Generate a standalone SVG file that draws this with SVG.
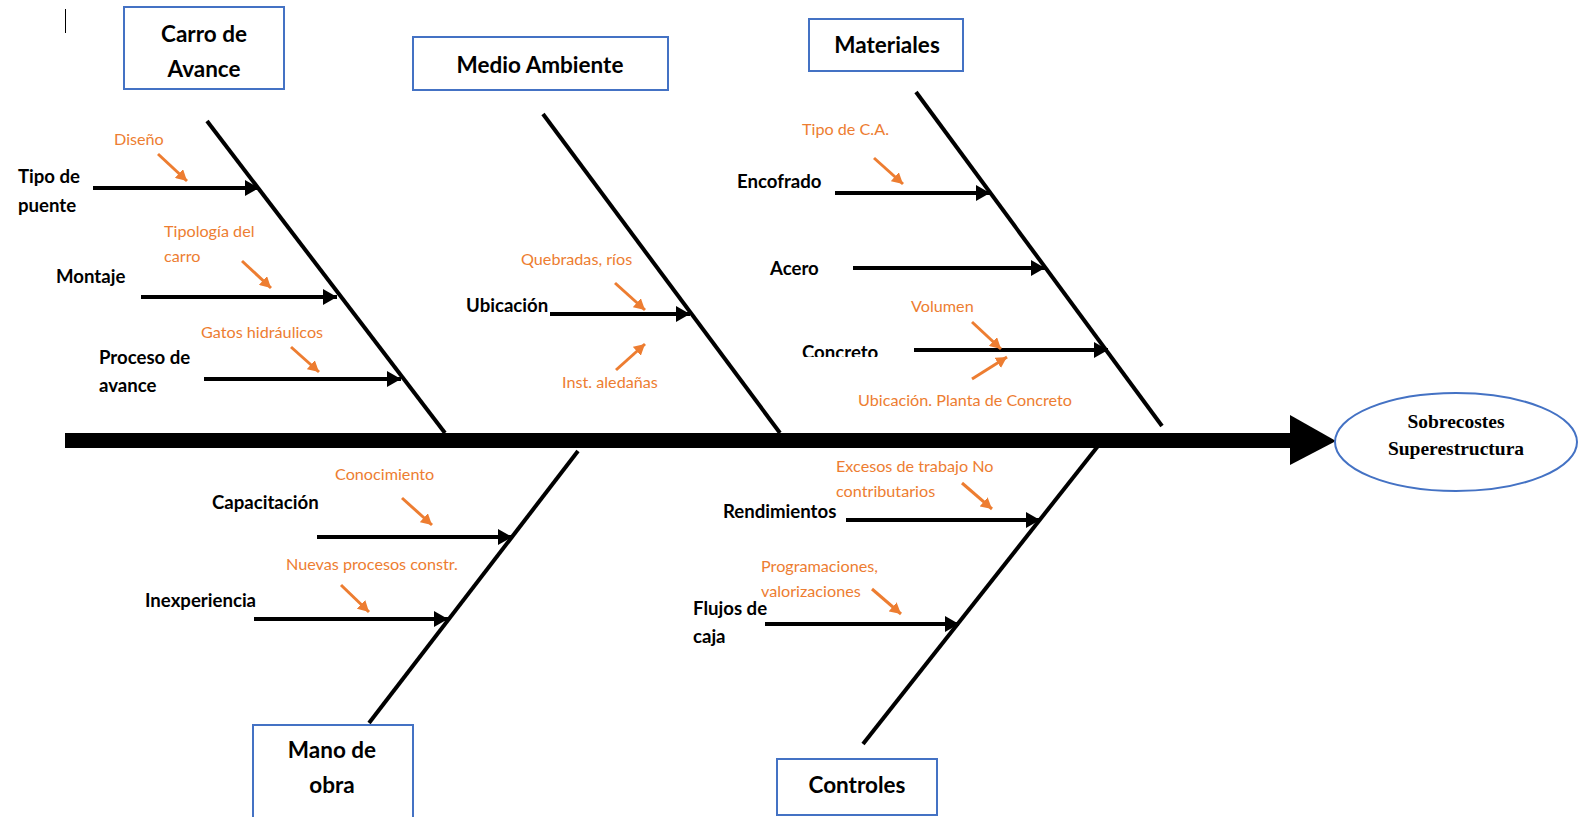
<svg xmlns="http://www.w3.org/2000/svg" width="1580" height="817" viewBox="0 0 1580 817">
  <style>
    .box { fill: #ffffff; stroke: #4472C4; stroke-width: 2; }
    .title { font-family: Lato, "Liberation Sans", sans-serif; font-weight: bold; font-size: 22.5px; fill: #000; text-anchor: middle; }
    .lbl { font-family: Lato, "Liberation Sans", sans-serif; font-weight: bold; font-size: 18.6px; fill: #000; }
    .sub { font-family: Lato, "Liberation Sans", sans-serif; font-size: 16.2px; fill: #ED7D31; }
    .effect { font-family: "Liberation Serif", "Times New Roman", serif; font-weight: bold; font-size: 19.5px; fill: #000; text-anchor: middle; }
    .bone { stroke: #000; stroke-width: 4; fill: none; }
    .branch { stroke: #000; stroke-width: 4; fill: none; marker-end: url(#blackHead); }
    .hint { stroke: #ED7D31; stroke-width: 3; fill: none; marker-end: url(#orangeHead); }
  </style>
  <defs>
    <marker id="blackHead" markerUnits="userSpaceOnUse" markerWidth="16" markerHeight="16" refX="14" refY="8" orient="auto">
      <path d="M0,0 L14,8 L0,16 Z" fill="#000"/>
    </marker>
    <marker id="orangeHead" markerUnits="userSpaceOnUse" markerWidth="12" markerHeight="12" refX="11" refY="6" orient="auto">
      <path d="M0,0 L11,6 L0,12 Z" fill="#ED7D31"/>
    </marker>
    <clipPath id="clipConcreto">
      <rect x="780" y="330" width="120" height="27"/>
    </clipPath>
  </defs>

  <rect width="1580" height="817" fill="#ffffff"/>

  <!-- text cursor mark -->
  <line x1="65.5" y1="9" x2="65.5" y2="33" stroke="#000" stroke-width="1"/>

  <!-- spine, bones and branch arrows -->
  <g id="connectors">
    <rect x="65" y="433" width="1227" height="15" fill="#000"/>
    <path d="M1290,415 L1336,441 L1290,465 Z" fill="#000"/>

    <line class="bone" x1="207" y1="121" x2="445" y2="433"/>
    <line class="bone" x1="543" y1="114" x2="780" y2="433"/>
    <line class="bone" x1="916" y1="92" x2="1162" y2="426"/>
    <line class="bone" x1="578" y1="451" x2="369" y2="723"/>
    <line class="bone" x1="1098" y1="446" x2="863" y2="744"/>

    <line class="branch" x1="93" y1="188" x2="259" y2="188"/>
    <line class="branch" x1="141" y1="297" x2="337" y2="297"/>
    <line class="branch" x1="204" y1="379" x2="401" y2="379"/>
    <line class="branch" x1="550" y1="314" x2="690" y2="314"/>
    <line class="branch" x1="835" y1="193" x2="990" y2="193"/>
    <line class="branch" x1="853" y1="268" x2="1045" y2="268"/>
    <line class="branch" x1="914" y1="350" x2="1108" y2="350"/>
    <line class="branch" x1="317" y1="537" x2="512" y2="537"/>
    <line class="branch" x1="254" y1="619" x2="448" y2="619"/>
    <line class="branch" x1="846" y1="520" x2="1040" y2="520"/>
    <line class="branch" x1="765" y1="624" x2="959" y2="624"/>

    <line class="hint" x1="158" y1="154" x2="187" y2="181"/>
    <line class="hint" x1="242" y1="261" x2="271" y2="288"/>
    <line class="hint" x1="291" y1="347" x2="319" y2="372"/>
    <line class="hint" x1="615" y1="283" x2="645" y2="310"/>
    <line class="hint" x1="616" y1="370" x2="645" y2="344"/>
    <line class="hint" x1="874" y1="158" x2="903" y2="184"/>
    <line class="hint" x1="972" y1="322" x2="1001" y2="349"/>
    <line class="hint" x1="972" y1="379" x2="1007" y2="357"/>
    <line class="hint" x1="402" y1="498" x2="432" y2="525"/>
    <line class="hint" x1="341" y1="585" x2="369" y2="612"/>
    <line class="hint" x1="962" y1="483" x2="992" y2="509"/>
    <line class="hint" x1="872" y1="589" x2="901" y2="614"/>
  </g>

  <!-- effect -->
  <g id="sobrecostes">
    <ellipse cx="1456" cy="442" rx="121" ry="49" fill="#fff" stroke="#4472C4" stroke-width="2"/>
    <text class="effect" x="1456" y="428">Sobrecostes</text>
    <text class="effect" x="1456" y="455">Superestructura</text>
  </g>

  <!-- Carro de Avance -->
  <g id="carro-de-avance">
    <rect class="box" x="124" y="7" width="160" height="82"/>
    <text class="title" x="204" y="42">Carro de</text>
    <text class="title" x="204" y="77">Avance</text>
    <text class="lbl" x="18" y="183">Tipo de</text>
    <text class="lbl" x="18" y="212">puente</text>
    <text class="sub" x="114" y="145">Diseño</text>
    <text class="lbl" x="56" y="283">Montaje</text>
    <text class="sub" x="164" y="237">Tipología del</text>
    <text class="sub" x="164" y="262">carro</text>
    <text class="lbl" x="99" y="364">Proceso de</text>
    <text class="lbl" x="99" y="392">avance</text>
    <text class="sub" x="201" y="338">Gatos hidráulicos</text>
  </g>

  <!-- Medio Ambiente -->
  <g id="medio-ambiente">
    <rect class="box" x="413" y="37" width="255" height="53"/>
    <text class="title" x="540" y="73">Medio Ambiente</text>
    <text class="lbl" x="466" y="312">Ubicación</text>
    <text class="sub" x="521" y="265">Quebradas, ríos</text>
    <text class="sub" x="562" y="388">Inst. aledañas</text>
  </g>

  <!-- Materiales -->
  <g id="materiales">
    <rect class="box" x="809" y="19" width="154" height="52"/>
    <text class="title" x="887" y="53">Materiales</text>
    <text class="sub" x="802" y="135">Tipo de C.A.</text>
    <text class="lbl" x="737" y="188">Encofrado</text>
    <text class="lbl" x="770" y="275">Acero</text>
    <text class="sub" x="911" y="312">Volumen</text>
    <text class="lbl" x="802" y="359" clip-path="url(#clipConcreto)">Concreto</text>
    <text class="sub" x="858" y="406">Ubicación. Planta de Concreto</text>
  </g>

  <!-- Mano de obra -->
  <g id="mano-de-obra">
    <rect class="box" x="253" y="725" width="160" height="100"/>
    <text class="title" x="332" y="758">Mano de</text>
    <text class="title" x="332" y="793">obra</text>
    <text class="sub" x="335" y="480">Conocimiento</text>
    <text class="lbl" x="212" y="509">Capacitación</text>
    <text class="sub" x="286" y="570">Nuevas procesos constr.</text>
    <text class="lbl" x="145" y="607">Inexperiencia</text>
  </g>

  <!-- Controles -->
  <g id="controles">
    <rect class="box" x="777" y="759" width="160" height="56"/>
    <text class="title" x="857" y="793">Controles</text>
    <text class="sub" x="836" y="472">Excesos de trabajo No</text>
    <text class="sub" x="836" y="497">contributarios</text>
    <text class="lbl" x="723" y="518">Rendimientos</text>
    <text class="sub" x="761" y="572">Programaciones,</text>
    <text class="sub" x="761" y="597">valorizaciones</text>
    <text class="lbl" x="693" y="615">Flujos de</text>
    <text class="lbl" x="693" y="643">caja</text>
  </g>
</svg>
